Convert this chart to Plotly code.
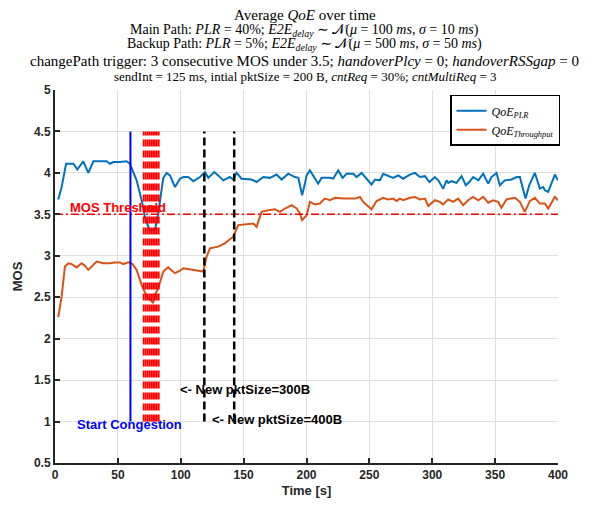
import plotly.graph_objects as go

# ---------------- data ----------------
t_plr = [2.6, 5.3, 8.8, 14.6, 17.8, 22.5, 26.5, 30.5, 35.0, 41.1, 43.7, 46.4, 51.7, 57.0, 59.6,
         64.9, 68.9, 71.5, 74.2, 75.5, 79.5, 82.1, 86.1, 88.8, 91.4, 95.4, 99.4, 102.0, 106.0,
         110.0, 115.3, 119.2, 121.9, 126.6, 129.8, 133.8, 139.0, 141.7, 144.4, 148.4, 156.3,
         160.3, 165.6, 170.9, 176.2, 180.2, 185.5, 190.8, 193.5, 196.5, 198.7, 200.1, 202.7,
         206.7, 209.3, 212.0, 218.6, 221.2, 225.2, 228.7, 231.9, 237.2, 239.8, 243.8, 246.4,
         251.7, 254.4, 258.3, 261.0, 265.0, 268.9, 272.9, 276.9, 282.2, 286.2, 290.2, 294.2,
         297.8, 302.1, 304.8, 308.7, 311.4, 312.7, 315.3, 319.3, 323.3, 326.7, 329.4, 332.6,
         336.6, 340.5, 344.5, 347.1, 351.1, 353.8, 357.8, 363.1, 367.1, 369.7, 372.4, 374.2,
         377.1, 381.6, 385.6, 388.2, 389.6, 392.2, 397.5, 400.0]
qoe_plr = [3.68, 3.83, 4.11, 4.11, 4.04, 4.14, 4.00, 4.14, 4.14, 4.14, 4.11, 4.13, 4.13, 4.14, 4.11,
           3.91, 3.67, 3.47, 3.35, 3.31, 3.31, 3.51, 3.94, 4.00, 3.97, 3.83, 3.93, 3.95, 3.95,
           3.90, 3.95, 4.01, 3.94, 4.01, 3.97, 3.91, 3.95, 3.92, 4.00, 3.93, 3.92,
           3.89, 3.95, 3.94, 3.98, 3.92, 3.99, 3.95, 3.94, 3.73, 3.87, 3.97, 4.03,
           3.93, 3.87, 3.94, 3.94, 3.93, 4.03, 3.94, 3.99, 3.99, 3.95, 4.00, 3.95,
           3.86, 3.92, 3.91, 3.99, 3.96, 3.94, 3.97, 3.93, 3.98, 4.00, 3.95, 3.96,
           3.89, 3.95, 3.91, 3.81, 3.91, 3.88, 3.90, 3.88, 3.96, 3.85, 3.89, 3.95,
           3.91, 3.99, 3.87, 3.95, 4.00, 3.85, 3.91, 3.92, 3.95, 3.95, 3.79, 3.69,
           3.85, 4.00, 3.81, 3.83, 3.79, 3.77, 3.98, 3.91]

t_thr = [2.6, 5.3, 7.9, 10.6, 13.3, 17.2, 21.2, 23.8, 26.5, 33.1, 38.4, 43.7, 47.7, 51.7, 54.3,
         58.3, 61.7, 64.9, 68.9, 72.9, 76.9, 78.1, 79.5, 82.1, 86.1, 90.0, 95.4, 99.4, 102.0,
         108.7, 117.9, 120.6, 123.2, 129.8, 135.1, 139.1, 141.7, 145.7, 152.4, 157.7, 160.3,
         164.3, 169.6, 174.9, 178.9, 182.9, 188.2, 192.2, 194.8, 196.5, 200.1, 202.7, 206.7,
         210.6, 214.6, 218.6, 222.6, 229.3, 238.5, 242.5, 245.1, 251.7, 255.7, 261.0, 265.0,
         268.9, 271.6, 274.2, 276.9, 282.2, 286.2, 290.2, 294.2, 296.8, 302.1, 306.1, 308.7,
         312.7, 316.6, 320.6, 324.6, 328.5, 332.5, 336.6, 340.5, 344.5, 348.4, 352.4, 355.0,
         359.0, 365.7, 369.7, 373.6, 377.6, 381.6, 385.6, 389.6, 392.2, 397.5, 400.0]
qoe_thr = [2.26, 2.51, 2.87, 2.91, 2.90, 2.86, 2.91, 2.88, 2.83, 2.93, 2.91, 2.91, 2.92, 2.92, 2.90,
           2.92, 2.90, 2.83, 2.65, 2.51, 2.45, 2.43, 2.53, 2.61, 2.81, 2.86, 2.79, 2.82, 2.85,
           2.83, 2.81, 2.99, 3.09, 3.11, 3.15, 3.20, 3.23, 3.37, 3.38, 3.39, 3.35,
           3.53, 3.55, 3.56, 3.53, 3.57, 3.61, 3.57, 3.51, 3.43, 3.49, 3.65, 3.62,
           3.63, 3.69, 3.67, 3.70, 3.69, 3.69, 3.71, 3.65, 3.56, 3.66, 3.70, 3.68,
           3.69, 3.66, 3.69, 3.67, 3.70, 3.71, 3.68, 3.69, 3.60, 3.67, 3.65, 3.62,
           3.68, 3.65, 3.69, 3.61, 3.67, 3.71, 3.67, 3.71, 3.64, 3.67, 3.65, 3.58,
           3.68, 3.70, 3.65, 3.53, 3.66, 3.70, 3.63, 3.63, 3.57, 3.71, 3.67]

mos_threshold = 3.5
congestion_start = 60
path_changes = [70.5, 72.0, 73.5, 75.0, 76.5, 78.0, 79.5, 81.0, 82.5]
pkt_changes = [118.75, 142.5]
marker_span = [1, 4.5]

x_ticks = [0, 50, 100, 150, 200, 250, 300, 350, 400]
y_ticks = [0.5, 1, 1.5, 2, 2.5, 3, 3.5, 4, 4.5, 5]

title_lines = [
    "Average <i>QoE</i> over time",
    "Main Path: <i>PLR</i> = 40%; <i>E2E</i><sub><i>delay</i></sub> ∼ 𝒩(<i>μ</i> = 100 <i>ms</i>, <i>σ</i> = 10 <i>ms</i>)",
    "Backup Path: <i>PLR</i> = 5%; <i>E2E</i><sub><i>delay</i></sub> ∼ 𝒩(<i>μ</i> = 500 <i>ms</i>, <i>σ</i> = 50 <i>ms</i>)",
    "changePath trigger: 3 consecutive MOS under 3.5; <i>handoverPlcy</i> = 0; <i>handoverRSSgap</i> = 0",
    "sendInt = 125 ms, intial pktSize = 200 B, <i>cntReq</i> = 30%; <i>cntMultiReq</i> = 3",
]

# ---------------- figure ----------------
fig = go.Figure()

fig.add_trace(go.Scatter(x=t_plr, y=qoe_plr, mode="lines",
                         line=dict(color="#0072BD", width=2),
                         name="<i>QoE</i><sub><i>PLR</i></sub>"))
fig.add_trace(go.Scatter(x=t_thr, y=qoe_thr, mode="lines",
                         line=dict(color="#D95319", width=2),
                         name="<i>QoE</i><sub><i>Throughput</i></sub>"))

# threshold
fig.add_trace(go.Scatter(x=[x_ticks[0], x_ticks[-1]], y=[mos_threshold, mos_threshold], mode="lines",
                         line=dict(color="#FF0000", width=1.5, dash="8px,3px,2px,3px"),
                         showlegend=False, hoverinfo="skip"))
# start congestion
fig.add_trace(go.Scatter(x=[congestion_start, congestion_start], y=marker_span, mode="lines",
                         line=dict(color="#0000FF", width=2),
                         showlegend=False, hoverinfo="skip"))
# path changes
for pc in path_changes:
    fig.add_trace(go.Scatter(x=[pc, pc], y=marker_span, mode="lines",
                             line=dict(color="#FF0000", width=1.8, dash="7px,4px"),
                             showlegend=False, hoverinfo="skip"))
# packet size changes
for pk in pkt_changes:
    fig.add_trace(go.Scatter(x=[pk, pk], y=marker_span, mode="lines",
                             line=dict(color="#000000", width=2.5, dash="8px,4px"),
                             showlegend=False, hoverinfo="skip"))

ann_font = dict(family="Liberation Sans, Arial", size=13, weight="bold")
fig.add_annotation(x=10.3, y=3.58, text="MOS Threshold", showarrow=False, xanchor="left",
                   yanchor="middle", font=dict(ann_font, color="#FF0000"))
fig.add_annotation(x=15.9, y=0.96, text="Start Congestion", showarrow=False, xanchor="left",
                   yanchor="middle", font=dict(ann_font, color="#0000FF"))
fig.add_annotation(x=97.8, y=1.39, text="<- New pktSize=300B", showarrow=False, xanchor="left",
                   yanchor="middle", font=dict(ann_font, color="#000000"))
fig.add_annotation(x=123.2, y=1.03, text="<- New pktSize=400B", showarrow=False, xanchor="left",
                   yanchor="middle", font=dict(ann_font, color="#000000"))

# title lines
title_y = [1.200, 1.160, 1.121, 1.079, 1.0375]
title_size = [15, 14, 14, 15, 13]
for txt, ty, ts in zip(title_lines, title_y, title_size):
    fig.add_annotation(x=0.497, y=ty, xref="paper", yref="paper", text=txt, showarrow=False,
                       xanchor="center", yanchor="middle",
                       font=dict(family="Liberation Serif, DejaVu Serif", size=ts, color="#000000"))

axis_common = dict(
    showgrid=True, gridcolor="#DFDFDF", gridwidth=1,
    showline=True, linecolor="#262626", linewidth=2,
    ticks="inside", ticklen=5, tickwidth=2, tickcolor="#262626",
    tickfont=dict(family="Liberation Sans, Arial", size=12, color="#262626", weight="bold"),
    zeroline=False, mirror=False, automargin=False,
)

# page body has an 8px default margin; size the figure to compensate
fig.update_layout(
    width=598, height=497,
    margin=dict(l=47, r=48, t=82, b=42, autoexpand=False),
    paper_bgcolor="white", plot_bgcolor="white",
    xaxis=dict(axis_common, range=[0, 400], tickvals=x_ticks,
               title=dict(text="Time [s]", standoff=4,
                          font=dict(family="Liberation Sans, Arial", size=13, color="#262626", weight="bold"))),
    yaxis=dict(axis_common, range=[0.5, 5], tickvals=y_ticks,
               ticktext=[("%g" % v) for v in y_ticks],
               title=dict(text="MOS", standoff=8,
                          font=dict(family="Liberation Sans, Arial", size=13, color="#262626", weight="bold"))),
    legend=dict(x=1.004, y=0.987, xanchor="right", yanchor="top",
                bgcolor="white", bordercolor="#000000", borderwidth=1.5,
                font=dict(family="Liberation Serif, DejaVu Serif", size=12, color="#000000"),
                tracegroupgap=0, itemwidth=30),
    showlegend=True,
)

fig.write_html("out.html")
